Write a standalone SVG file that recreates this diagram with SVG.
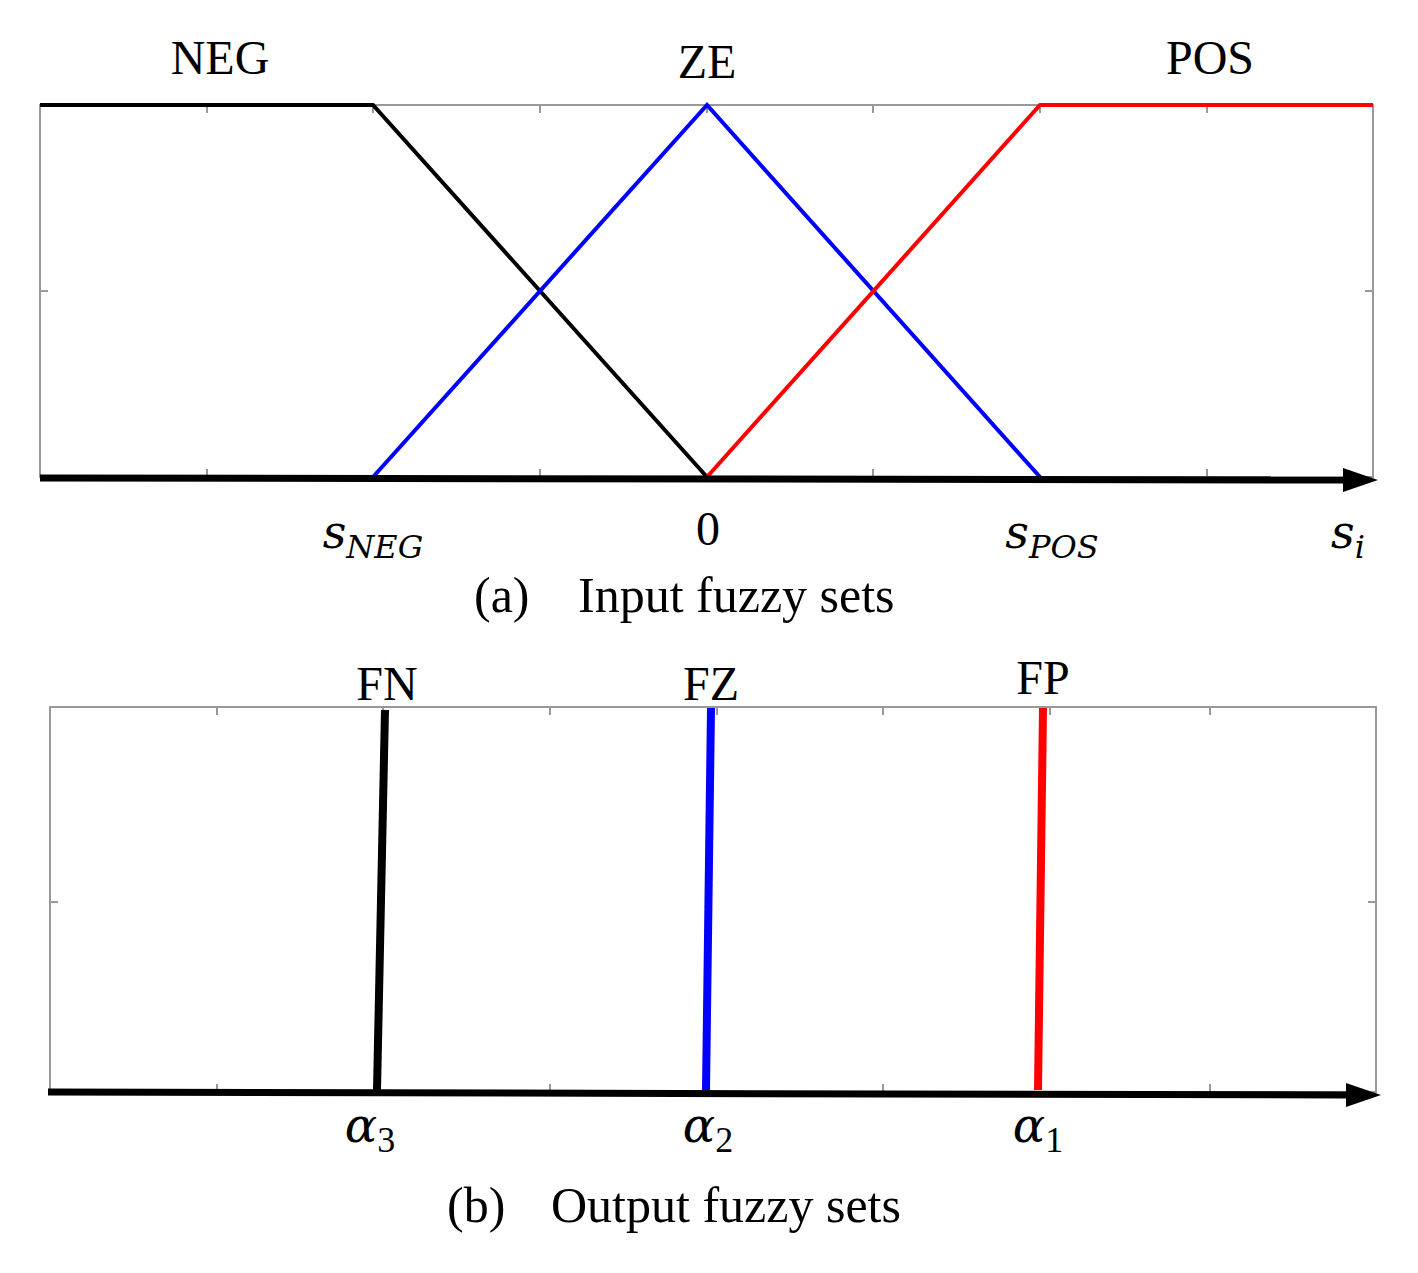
<svg xmlns="http://www.w3.org/2000/svg" width="1418" height="1273" viewBox="0 0 1418 1273">
<defs>
<style>
.t{font-family:"Liberation Serif","Times New Roman",serif;font-size:48px;fill:#000;text-anchor:middle}
.c{font-family:"Liberation Serif","Times New Roman",serif;font-size:50px;fill:#000;text-anchor:start}
.m{font-family:"DejaVu Serif","Liberation Serif",serif;font-style:italic;fill:#000;text-anchor:middle}
.sub{font-family:"Liberation Serif",serif;font-style:normal}
.box{fill:#fff;stroke:#999;stroke-width:2}
.tick{stroke:#999;stroke-width:2}
.ax{stroke:#000;stroke-width:7}
</style>
<marker id="ah" markerWidth="5" markerHeight="3.4" refX="0" refY="1.7" orient="auto" markerUnits="strokeWidth"><path d="M0,0 L5,1.7 L0,3.4 Z" fill="#000"/></marker>
</defs>
<rect width="1418" height="1273" fill="#fff"/>
<g id="plotA">
<rect class="box" x="40" y="105" width="1333" height="372"/>
<path class="tick" d="M207,105v8M373,105v8M540,105v8M707,105v8M873,105v8M1040,105v8M1207,105v8M207,477v-8M540,477v-8M873,477v-8M1207,477v-8M40,291h8M1373,291h-8"/>
<polyline points="40,105 373,105 707,477" fill="none" stroke="#000" stroke-width="4"/>
<polyline points="373,477 707,105 1040,477" fill="none" stroke="#00f" stroke-width="4"/>
<polyline points="707,477 1040,105 1373,105" fill="none" stroke="#f00" stroke-width="4"/>
<line class="ax" x1="40" y1="478" x2="1343" y2="480" marker-end="url(#ah)"/>
<text class="t" x="220" y="74">NEG</text>
<text class="t" x="707" y="78">ZE</text>
<text class="t" x="1210" y="74">POS</text>
<text class="m" x="373" y="548" font-size="46">s<tspan font-size="32" dy="10">NEG</tspan></text>
<text class="t" x="708" y="545">0</text>
<text class="m" x="1052" y="548" font-size="46">s<tspan font-size="32" dy="10">POS</tspan></text>
<text class="m" x="1348" y="548" font-size="46">s<tspan font-size="32" dy="10">i</tspan></text>
<text class="c" x="474" y="612">(a)</text>
<text class="c" x="578" y="612">Input fuzzy sets</text>
</g>
<g id="plotB">
<rect class="box" x="50" y="707" width="1326" height="385"/>
<path class="tick" d="M217,707v8M383,707v8M550,707v8M717,707v8M883,707v8M1050,707v8M1210,707v8M217,1092v-8M550,1092v-8M883,1092v-8M1210,1092v-8M50,902h8M1376,902h-8"/>
<line x1="385" y1="710" x2="377" y2="1090" stroke="#000" stroke-width="8"/>
<line x1="711" y1="708" x2="706" y2="1090" stroke="#00f" stroke-width="8"/>
<line x1="1043" y1="708" x2="1038" y2="1090" stroke="#f00" stroke-width="8"/>
<line class="ax" x1="48" y1="1092" x2="1346" y2="1095" marker-end="url(#ah)"/>
<text class="t" x="387" y="700">FN</text>
<text class="t" x="711" y="700">FZ</text>
<text class="t" x="1043" y="694">FP</text>
<text class="m" x="370" y="1142" font-size="48">α<tspan class="sub" font-size="36" dy="10">3</tspan></text>
<text class="m" x="708" y="1142" font-size="48">α<tspan class="sub" font-size="36" dy="10">2</tspan></text>
<text class="m" x="1038" y="1142" font-size="48">α<tspan class="sub" font-size="36" dy="10">1</tspan></text>
<text class="c" x="447" y="1222">(b)</text>
<text class="c" x="551" y="1222">Output fuzzy sets</text>
</g>
</svg>
